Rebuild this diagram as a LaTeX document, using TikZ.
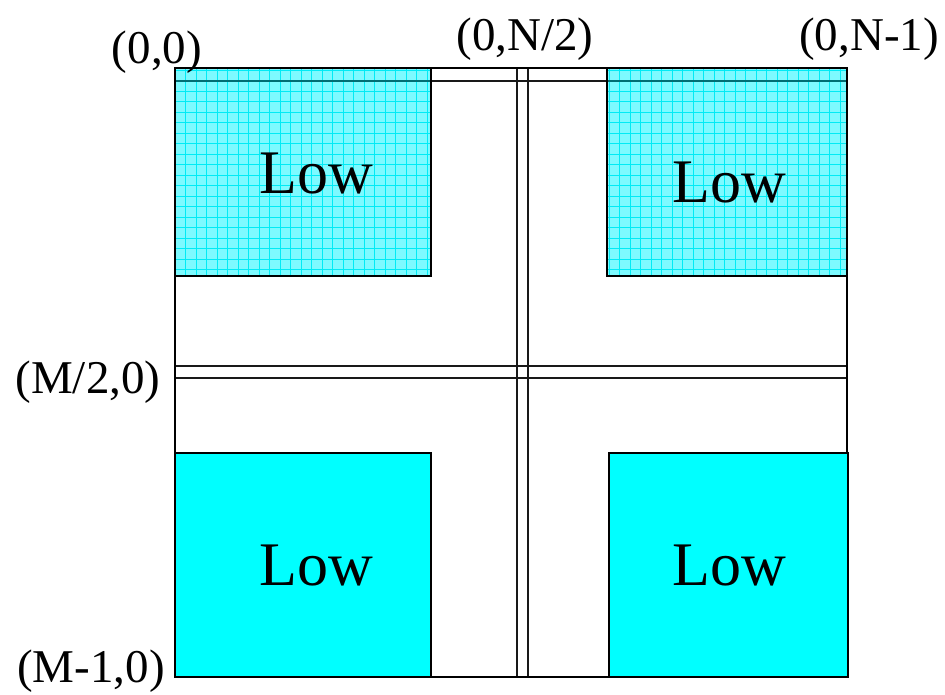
\documentclass[tikz,border=0pt]{standalone}
\usepackage{fontspec}
\setmainfont{Liberation Serif}
\definecolor{lightcy}{RGB}{125,250,255}
\definecolor{gridcy}{RGB}{0,235,245}
\definecolor{darkteal}{RGB}{0,110,115}
\definecolor{fullcy}{RGB}{0,255,255}
\tikzset{
  frameline/.style={line width=2.4pt, black},
  dblline/.style={line width=1.8pt, black!90},
  boxline/.style={line width=2.4pt, black},
  gridline/.style={line width=1pt, gridcy},
  coordlab/.style={font=\fontsize{47}{56}\selectfont, inner sep=0pt, anchor=base},
  lowlab/.style={font=\fontsize{62}{74}\selectfont, inner sep=0pt, anchor=base}
}
\begin{document}
\begin{tikzpicture}[x=1pt,y=-1pt]
\useasboundingbox (0,0) rectangle (945,694);
% hatched top boxes
\fill[lightcy] (175,68) rectangle (431,276);
\fill[lightcy] (607,68) rectangle (847,276);
\begin{scope}
  \clip (175,68) rectangle (431,276);
  \foreach \i in {0,...,25} {\draw[gridline] (175+10.5*\i,68) -- (175+10.5*\i,276);}
  \foreach \j in {0,...,20} {\draw[gridline] (175,70+10.5*\j) -- (431,70+10.5*\j);}
\end{scope}
\begin{scope}
  \clip (607,68) rectangle (847,276);
  \foreach \i in {0,...,23} {\draw[gridline] (609+10.5*\i,68) -- (609+10.5*\i,276);}
  \foreach \j in {0,...,20} {\draw[gridline] (607,70+10.5*\j) -- (847,70+10.5*\j);}
\end{scope}
% solid bottom boxes
\fill[fullcy] (175,453) rectangle (431,677);
\fill[fullcy] (609,453) rectangle (848,677);
% double lines
\draw[dblline] (431,81) -- (607,81);
\draw[dblline, darkteal] (175,81) -- (431,81);
\draw[dblline, darkteal] (607,81) -- (847,81);
\draw[dblline] (175,366) -- (847,366);
\draw[dblline] (175,378) -- (847,378);
\draw[dblline] (517,68) -- (517,677);
\draw[dblline] (528,68) -- (528,677);
% box borders
\draw[boxline] (175,68) rectangle (431,276);
\draw[boxline] (607,68) rectangle (847,276);
\draw[boxline] (175,453) rectangle (431,677);
\draw[boxline] (609,453) rectangle (848,677);
% outer frame
\draw[frameline] (175,68) -- (847,68) -- (847,453);
\draw[frameline] (175,68) -- (175,677) -- (848,677);
% labels
\node[lowlab] (lowtl) at (316,193) {Low};
\node[lowlab] (lowtr) at (729,202) {Low};
\node[lowlab] (lowbl) at (316,585) {Low};
\node[lowlab] (lowbr) at (729,585) {Low};
\node[coordlab] (c00) at (157,63) {(0,0)};
\node[coordlab] (c0n2) at (525,50) {(0,N/2)};
\node[coordlab] (c0n1) at (869,50) {(0,N-1)};
\node[coordlab] (cm20) at (88,393) {(M/2,0)};
\node[coordlab] (cm10) at (91,682) {(M-1,0)};
\end{tikzpicture}
\end{document}
